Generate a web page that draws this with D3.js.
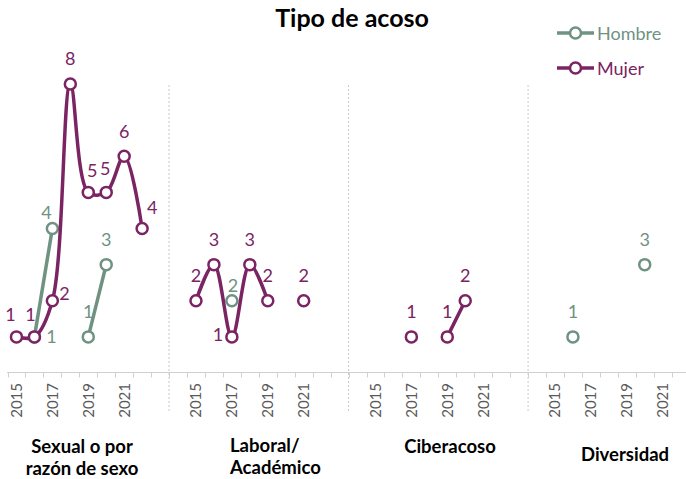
<!DOCTYPE html>
<html>
  <head>
    <meta charset="utf-8">
    <title>Tipo de acoso</title>
    <script src="https://d3js.org/d3.v7.min.js"></script>
    <style>
      html, body { margin: 0; padding: 0; background: #fff; }
      svg { display: block; font-family: Lato, "Open Sans", sans-serif; }
    </style>
  </head>
  <body>
    <svg id="chart" width="686" height="479"></svg>
    <script>
      // chart data
      var years = [2015, 2016, 2017, 2018, 2019, 2020, 2021, 2022];
      var yearTicks = [2015, 2017, 2019, 2021];
      var groups = ["Sexual o por razón de sexo", "Laboral/ Académico", "Ciberacoso", "Diversidad"];
      var groupLines = [["Sexual o por", "razón de sexo"], ["Laboral/", "Académico"], ["Ciberacoso"], ["Diversidad"]];
      var hombre = [
        [null, 1, 4, null, 1, 3, null, null],
        [null, null, 2, null, null, null, null, null],
        [null, null, null, null, null, null, null, null],
        [null, 1, null, null, null, 3, null, null]
      ];
      var mujer = [
        [1, 1, 2, 8, 5, 5, 6, 4],
        [2, 3, 1, 3, 2, null, 2, null],
        [null, null, 1, null, 1, 2, null, null],
        [null, null, null, null, null, null, null, null]
      ];
      var seriesNames = ["Hombre", "Mujer"];
      var colors = { Hombre: "#6f9282", Mujer: "#7b2463" };

      // where a data label sits relative to its point (default: above)
      var labelNudge = {
        "Mujer-0-0": [-6, -22], "Mujer-0-1": [-4, -22], "Mujer-0-2": [12, -7],
        "Mujer-0-4": [4, -22], "Mujer-0-5": [-1, -24], "Mujer-0-7": [10, -21],
        "Mujer-1-2": [-14, -2],
        "Hombre-0-1": [17, 0], "Hombre-0-2": [-6, -16], "Hombre-1-2": [1, -15]
      };
      var groupLabelX = [82, 230, 450, 625];
      var groupLabelY = [453, 452, 453, 461];

      var svg = d3.select("#chart");
      var width = 686;

      // one slot per year, two empty slots between groups
      var slots = [];
      groups.forEach(function(g, gi) {
        years.forEach(function(yr) { slots.push(gi + "|" + yr); });
        if (gi < groups.length - 1) { slots.push(gi + "|b1"); slots.push(gi + "|b2"); }
      });
      var step = 17.95;
      var x = d3.scaleBand()
        .domain(slots)
        .range([7.5, 7.5 + slots.length * step])
        .padding(0);
      var y = d3.scaleLinear()
        .domain([0, 8])
        .range([373, 84]);
      var axisY = 372.5;

      // title
      svg.append("text")
        .attr("x", 352)
        .attr("y", 27)
        .attr("text-anchor", "middle")
        .style("font-size", "25px")
        .style("font-weight", "bold")
        .style("fill", "#000")
        .text("Tipo de acoso");

      // group dividers
      for (var gi = 1; gi < groups.length; gi++) {
        var dx = x((gi - 1) + "|b2");
        svg.append("line")
          .attr("x1", dx).attr("x2", dx)
          .attr("y1", 85).attr("y2", 412)
          .style("stroke", "#c8c8c8")
          .style("stroke-width", 1)
          .style("stroke-dasharray", "2,2");
      }

      // axis line + tick marks
      svg.append("line")
        .attr("x1", 7).attr("x2", width)
        .attr("y1", axisY).attr("y2", axisY)
        .style("stroke", "#d0d0d0")
        .style("stroke-width", 1);
      var bounds = slots.map(function(s) { return x(s); });
      bounds.push(x.range()[1]);
      svg.append("g").selectAll("line")
        .data(bounds)
        .enter().append("line")
          .attr("x1", function(d) { return Math.round(d) + 0.5; })
          .attr("x2", function(d) { return Math.round(d) + 0.5; })
          .attr("y1", axisY).attr("y2", axisY + 5)
          .style("stroke", "#d0d0d0");

      // year labels
      var tickData = [];
      groups.forEach(function(g, gi) {
        yearTicks.forEach(function(yr) { tickData.push({ key: gi + "|" + yr, year: yr }); });
      });
      svg.append("g").selectAll("text")
        .data(tickData)
        .enter().append("text")
          .attr("transform", function(d) {
            return "translate(" + (x(d.key) + x.bandwidth() / 2) + "," + 383 + ") rotate(-90)";
          })
          .attr("text-anchor", "end")
          .attr("dy", "0.36em")
          .style("font-size", "15px")
          .style("fill", "#595959")
          .text(function(d) { return d.year; });

      // group labels
      groupLines.forEach(function(lines, gi) {
        var t = svg.append("text")
          .attr("x", groupLabelX[gi])
          .attr("y", groupLabelY[gi])
          .attr("text-anchor", gi == 1 ? "start" : "middle")
          .style("font-size", "18.5px")
          .style("font-weight", "bold")
          .style("fill", "#000");
        lines.forEach(function(l, li) {
          t.append("tspan")
            .attr("x", groupLabelX[gi])
            .attr("dy", li == 0 ? 0 : 22)
            .text(l);
        });
      });

      // series
      var line = d3.line()
        .defined(function(d) { return d.v != null; })
        .x(function(d) { return x(d.key) + x.bandwidth() / 2; })
        .y(function(d) { return y(d.v); })
        .curve(d3.curveCatmullRom.alpha(0.5));

      var seriesData = [hombre, mujer].map(function(vals, si) {
        var name = seriesNames[si];
        return {
          name: name,
          groups: vals.map(function(row, gi) {
            return row.map(function(v, yi) {
              return { key: gi + "|" + years[yi], v: v, id: name + "-" + gi + "-" + yi };
            });
          })
        };
      });

      seriesData.forEach(function(s) {
        var g = svg.append("g");
        s.groups.forEach(function(pts) {
          g.append("path")
            .attr("d", line(pts))
            .style("fill", "none")
            .style("stroke", colors[s.name])
            .style("stroke-width", 3.5)
            .style("stroke-linejoin", "round")
            .style("stroke-linecap", "round");
        });
        var pts = [].concat.apply([], s.groups).filter(function(d) { return d.v != null; });
        g.selectAll("circle")
          .data(pts)
          .enter().append("circle")
            .attr("cx", function(d) { return x(d.key) + x.bandwidth() / 2; })
            .attr("cy", function(d) { return y(d.v); })
            .attr("r", 5.5)
            .style("fill", "#fff")
            .style("stroke", colors[s.name])
            .style("stroke-width", 2.5);
      });

      // data labels
      seriesData.forEach(function(s) {
        var pts = [].concat.apply([], s.groups).filter(function(d) { return d.v != null; });
        svg.append("g").selectAll("text")
          .data(pts)
          .enter().append("text")
            .attr("x", function(d) {
              var n = labelNudge[d.id] || [0, -25];
              return x(d.key) + x.bandwidth() / 2 + n[0];
            })
            .attr("y", function(d) {
              var n = labelNudge[d.id] || [0, -25];
              return y(d.v) + n[1];
            })
            .attr("dy", "0.36em")
            .attr("text-anchor", "middle")
            .style("font-size", "18px")
            .style("fill", colors[s.name])
            .text(function(d) { return d.v; });
      });

      // legend
      var legend = svg.append("g");
      seriesNames.forEach(function(name, i) {
        var ly = i == 0 ? 33 : 68;
        legend.append("line")
          .attr("x1", 557).attr("x2", 594)
          .attr("y1", ly).attr("y2", ly)
          .style("stroke", colors[name])
          .style("stroke-width", 3.5);
        legend.append("circle")
          .attr("cx", 575.5).attr("cy", ly)
          .attr("r", 5.5)
          .style("fill", "#fff")
          .style("stroke", colors[name])
          .style("stroke-width", 2.5);
        legend.append("text")
          .attr("x", 597)
          .attr("y", ly + 7)
          .style("font-size", "18px")
          .style("fill", colors[name])
          .text(name);
      });
    </script>
  </body>
</html>
